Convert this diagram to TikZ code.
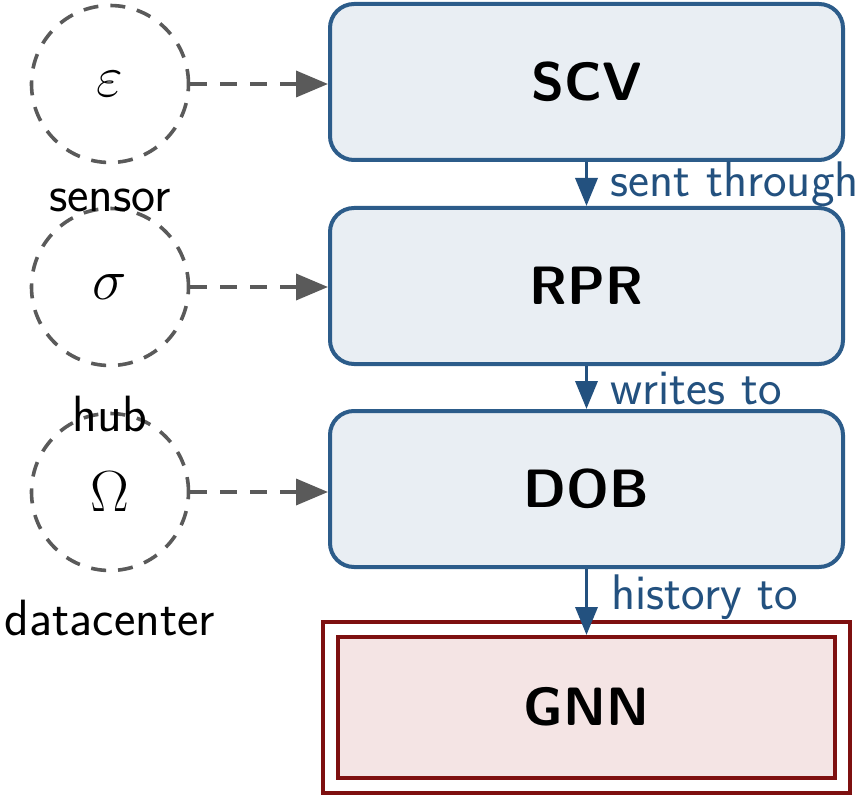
\RequirePackage{fix-cm}
\documentclass[tikz,border=0pt]{standalone}
\usepackage{fontspec}
\usetikzlibrary{arrows.meta}

\definecolor{boxblue}{HTML}{2C5C8A}
\definecolor{boxfill}{HTML}{E9EEF3}
\definecolor{flowblue}{HTML}{23517F}
\definecolor{linkgrey}{HTML}{5A5A5A}
\definecolor{sinkred}{HTML}{7E1010}
\definecolor{sinkfill}{HTML}{F4E4E4}

\tikzset{
  procbox/.style={draw=boxblue, fill=boxfill, line width=2pt, rounded corners=12pt,
    minimum width=256.5pt, minimum height=78pt, inner sep=0pt,
    font=\sffamily\bfseries\fontsize{27}{30}\selectfont},
  sinkbox/.style={draw=sinkred, double=white, double distance=5.5pt, fill=sinkfill,
    line width=2pt, minimum width=256pt, minimum height=78pt, inner sep=0pt,
    font=\sffamily\bfseries\fontsize{27}{30}\selectfont},
  srccircle/.style={circle, draw=linkgrey, line width=1.8pt, dash pattern=on 7.5pt off 6pt,
    minimum size=78.5pt, inner sep=0pt, font=\fontsize{29}{30}\selectfont},
  srclabel/.style={font=\sffamily\fontsize{25.5}{28}\selectfont, text=black, inner sep=0pt},
  feed/.style={draw=linkgrey, line width=1.8pt, dash pattern=on 8.5pt off 6.5pt,
    -{Triangle[length=16pt,width=13pt]}},
  flow/.style={draw=flowblue, line width=1.8pt, -{Triangle[length=14pt,width=11pt]}},
  flowlabel/.style={font=\sffamily\fontsize{25}{28}\selectfont, text=flowblue,
    anchor=west, inner sep=0pt}
}

\begin{document}
\begin{tikzpicture}[x=0.5pt,y=-0.5pt]
  \useasboundingbox (0,0) rectangle (863,797);

  % processing chain
  \node[procbox] (scv) at (586.5,82) {SCV};
  \node[procbox] (rpr) at (586.5,286) {RPR};
  \node[procbox] (dob) at (586.5,489) {DOB};
  \node[sinkbox] (gnn) at (586.5,707) {GNN};

  % sources
  \node[srccircle] (eps) at (110,84) {$\varepsilon$};
  \node[srccircle] (sig) at (110,287) {$\sigma$};
  \node[srccircle] (ome) at (110,492) {$\Omega$};

  \node[srclabel] (lsensor) at (110,200) {sensor};
  \node[srclabel] (lhub) at (110,414) {hub};
  \node[srclabel] (ldc) at (110,618) {datacenter};

  % source feeds
  \draw[feed] (eps.east) -- (eps.east -| scv.west);
  \draw[feed] (sig.east) -- (sig.east -| rpr.west);
  \draw[feed] (ome.east) -- (ome.east -| dob.west);

  % flow between stages
  \draw[flow] (scv.south) -- (rpr.north);
  \draw[flow] (rpr.south) -- (dob.north);
  \draw[flow] (dob.south) -- ([yshift=-4pt]gnn.north);

  \node[flowlabel] (t1) at (610,184) {sent through};
  \node[flowlabel] (t2) at (610,388) {writes to};
  \node[flowlabel] (t3) at (611,597) {history to};
\end{tikzpicture}
\end{document}
